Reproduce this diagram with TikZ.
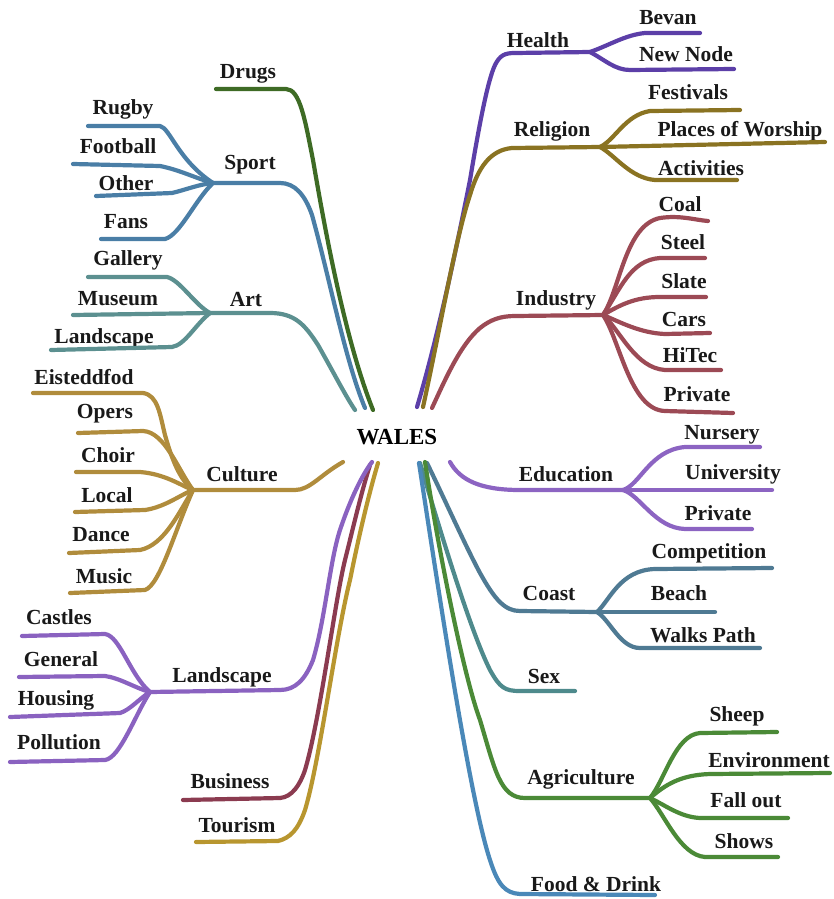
\documentclass[tikz,border=0pt]{standalone}
\usepackage{fontspec}
\setmainfont{Liberation Serif}
\begin{document}
\begin{tikzpicture}[x=1pt,y=-1pt,
  lbl/.style={font=\bfseries\fontsize{21.5}{24}\selectfont, inner sep=0pt, text=black!90},
  hub/.style={font=\bfseries\fontsize{23}{26}\selectfont, inner sep=0pt},
  br/.style={line width=4.2pt, line cap=round, line join=round}]
\useasboundingbox (0,0) rectangle (833,899);
\definecolor{cDrugs}{HTML}{3E6B25}
\definecolor{cSport}{HTML}{4A7EA6}
\definecolor{cArt}{HTML}{5C9090}
\definecolor{cCulture}{HTML}{B08C3C}
\definecolor{cLand}{HTML}{8A62C0}
\definecolor{cBusiness}{HTML}{8B3B50}
\definecolor{cTourism}{HTML}{B8962F}
\definecolor{cHealth}{HTML}{5C3FA8}
\definecolor{cReligion}{HTML}{8A7322}
\definecolor{cIndustry}{HTML}{9C4A55}
\definecolor{cEducation}{HTML}{8C64C2}
\definecolor{cCoast}{HTML}{4F7A93}
\definecolor{cSex}{HTML}{4E8A8C}
\definecolor{cAgri}{HTML}{4B8A37}
\definecolor{cFood}{HTML}{4A88B8}

% centre
\node[hub] (wales) at (397,437) {WALES};

% ---- junctions ----
\coordinate (sportJ) at (213,183);
\coordinate (artJ) at (210,313);
\coordinate (cultureJ) at (193,490);
\coordinate (landJ) at (150,692);
\coordinate (healthJ) at (590,52);
\coordinate (religionJ) at (600,147);
\coordinate (industryJ) at (603,315);
\coordinate (educationJ) at (623,490);
\coordinate (coastJ) at (597,612);
\coordinate (agriJ) at (650,798);

% ---- roots near the centre ----
\coordinate (drugsR) at (373,410);
\coordinate (sportR) at (365,408);
\coordinate (artR) at (355,410);
\coordinate (cultureR) at (343,462);
\coordinate (landR) at (372,462);
\coordinate (businessR) at (370,465);
\coordinate (tourismR) at (378,463);
\coordinate (healthR) at (417,407);
\coordinate (religionR) at (423,407);
\coordinate (industryR) at (432,408);
\coordinate (educationR) at (450,462);
\coordinate (coastR) at (427,463);
\coordinate (sexR) at (420,463);
\coordinate (agriR) at (425,462);
\coordinate (foodR) at (419,463);

% ---- labels ----
\node[lbl] (drugs) at (248,74) {Drugs};
\node[lbl] (sport) at (250,165) {Sport};
\node[lbl] (rugby) at (123,109) {Rugby};
\node[lbl] (football) at (118,146) {Football};
\node[lbl] (other) at (126,183) {Other};
\node[lbl] (fans) at (126,222) {Fans};
\node[lbl] (art) at (246,300) {Art};
\node[lbl] (gallery) at (128,260) {Gallery};
\node[lbl] (museum) at (118,299) {Museum};
\node[lbl] (landscapeA) at (104,338) {Landscape};
\node[lbl] (culture) at (242,474) {Culture};
\node[lbl] (eist) at (84,377) {Eisteddfod};
\node[lbl] (opers) at (105,414) {Opers};
\node[lbl] (choir) at (108,455) {Choir};
\node[lbl] (local) at (107,495) {Local};
\node[lbl] (dance) at (101,535) {Dance};
\node[lbl] (music) at (104,576) {Music};
\node[lbl] (landscape) at (222,677) {Landscape};
\node[lbl] (castles) at (59,617) {Castles};
\node[lbl] (general) at (61,659) {General};
\node[lbl] (housing) at (56,700) {Housing};
\node[lbl] (pollution) at (59,742) {Pollution};
\node[lbl] (business) at (230,781) {Business};
\node[lbl] (tourism) at (237,825) {Tourism};

\node[lbl] (health) at (538,40) {Health};
\node[lbl] (bevan) at (668,18) {Bevan};
\node[lbl] (newnode) at (686,54) {New Node};
\node[lbl] (religion) at (552,131) {Religion};
\node[lbl] (festivals) at (688,92) {Festivals};
\node[lbl] (worship) at (740,131) {Places of Worship};
\node[lbl] (activities) at (701,168) {Activities};
\node[lbl] (industry) at (556,300) {Industry};
\node[lbl] (coal) at (680,204) {Coal};
\node[lbl] (steel) at (683,242) {Steel};
\node[lbl] (slate) at (684,281) {Slate};
\node[lbl] (cars) at (684,319) {Cars};
\node[lbl] (hitec) at (690,355) {HiTec};
\node[lbl] (privateI) at (697,394) {Private};
\node[lbl] (education) at (566,474) {Education};
\node[lbl] (nursery) at (722,435) {Nursery};
\node[lbl] (university) at (733,474) {University};
\node[lbl] (privateE) at (718,513) {Private};
\node[lbl] (coast) at (549,593) {Coast};
\node[lbl] (competition) at (709,553) {Competition};
\node[lbl] (beach) at (679,593) {Beach};
\node[lbl] (walks) at (703,635) {Walks Path};
\node[lbl] (sex) at (544,676) {Sex};
\node[lbl] (agri) at (581,779) {Agriculture};
\node[lbl] (sheep) at (737,716) {Sheep};
\node[lbl] (environment) at (769,760) {Environment};
\node[lbl] (fallout) at (746,800) {Fall out};
\node[lbl] (shows) at (744,841) {Shows};
\node[lbl] (food) at (596,884) {Food \& Drink};

% ---- left main branches ----
\draw[br,cArt] (artJ) -- (270,313) .. controls (295,313) and (305,325) .. (318,345)
   .. controls (335,375) and (345,395) .. (artR);
\draw[br,cSport] (sportJ) -- (280,183) .. controls (295,183) and (305,195) .. (312,215)
   .. controls (330,280) and (345,360) .. (sportR);
\draw[br,cDrugs] (216,89) -- (286,89) .. controls (300,89) and (305,120) .. (313,160)
   .. controls (325,230) and (345,340) .. (drugsR);
\draw[br,cCulture] (cultureJ) -- (295,490) .. controls (310,490) and (320,475) .. (cultureR);
\draw[br,cTourism] (196,842) -- (278,841) .. controls (290,838) and (298,830) .. (305,810)
   .. controls (320,760) and (335,640) .. (350,580) .. controls (360,530) and (370,490) .. (tourismR);
\draw[br,cBusiness] (183,800) -- (280,798) .. controls (292,797) and (300,785) .. (305,770)
   .. controls (320,720) and (335,600) .. (345,560) .. controls (355,520) and (362,490) .. (businessR);
\draw[br,cLand] (landJ) -- (280,690) .. controls (295,690) and (305,680) .. (313,660)
   .. controls (325,620) and (330,560) .. (340,530) .. controls (350,500) and (362,475) .. (landR);

% sport leaves
\draw[br,cSport] (88,126) -- (160,126) .. controls (170,128) and (178,160) .. (sportJ);
\draw[br,cSport] (73,164) -- (160,166) .. controls (180,170) and (195,178) .. (sportJ);
\draw[br,cSport] (96,196) -- (172,193) .. controls (185,190) and (200,184) .. (sportJ);
\draw[br,cSport] (101,239) -- (165,239) .. controls (180,235) and (195,200) .. (sportJ);
% art leaves
\draw[br,cArt] (88,277) -- (167,277) .. controls (180,280) and (195,305) .. (artJ);
\draw[br,cArt] (73,315) -- (artJ);
\draw[br,cArt] (51,350) -- (172,347) .. controls (185,345) and (195,325) .. (artJ);
% culture leaves
\draw[br,cCulture] (33,393) -- (143,393) .. controls (158,395) and (160,415) .. (165,435)
   .. controls (172,460) and (180,480) .. (cultureJ);
\draw[br,cCulture] (78,433) -- (143,431) .. controls (165,432) and (178,470) .. (cultureJ);
\draw[br,cCulture] (76,472) -- (140,472) .. controls (165,474) and (180,485) .. (cultureJ);
\draw[br,cCulture] (75,512) -- (145,510) .. controls (165,507) and (180,495) .. (cultureJ);
\draw[br,cCulture] (69,553) -- (140,550) .. controls (165,545) and (180,510) .. (cultureJ);
\draw[br,cCulture] (70,593) -- (145,590) .. controls (160,585) and (175,530) .. (cultureJ);
% landscape leaves
\draw[br,cLand] (22,636) -- (105,634) .. controls (120,636) and (130,675) .. (landJ);
\draw[br,cLand] (19,677) -- (105,676) .. controls (120,678) and (135,688) .. (landJ);
\draw[br,cLand] (10,717) -- (120,713) .. controls (130,710) and (140,698) .. (landJ);
\draw[br,cLand] (10,762) -- (105,760) .. controls (120,758) and (135,715) .. (landJ);

% ---- right main branches ----
\draw[br,cHealth] (healthR) .. controls (440,330) and (460,230) .. (470,180)
   .. controls (480,120) and (488,80) .. (495,65) .. controls (500,55) and (505,53) .. (515,53) -- (healthJ);
\draw[br,cReligion] (religionR) .. controls (440,330) and (455,240) .. (470,195)
   .. controls (478,168) and (490,150) .. (512,148) -- (religionJ);
\draw[br,cIndustry] (industryR) .. controls (445,380) and (460,345) .. (480,328)
   .. controls (490,320) and (500,316) .. (515,316) -- (industryJ);
\draw[br,cEducation] (educationR) .. controls (460,480) and (480,490) .. (520,490) -- (educationJ);
\draw[br,cCoast] (coastR) .. controls (445,500) and (465,545) .. (480,573)
   .. controls (495,600) and (505,611) .. (520,611) -- (coastJ);
\draw[br,cSex] (sexR) .. controls (440,530) and (470,630) .. (490,670)
   .. controls (500,688) and (505,691) .. (520,691) -- (575,691);
\draw[br,cAgri] (agriR) .. controls (440,560) and (465,680) .. (480,720)
   .. controls (495,770) and (500,798) .. (525,798) -- (agriJ);
\draw[br,cFood] (foodR) .. controls (440,600) and (470,800) .. (490,860)
   .. controls (498,885) and (505,893) .. (520,894) -- (655,895);

% health leaves
\draw[br,cHealth] (healthJ) .. controls (610,45) and (625,35) .. (645,33) -- (700,33);
\draw[br,cHealth] (healthJ) .. controls (605,60) and (615,70) .. (630,70) -- (734,69);
% religion leaves
\draw[br,cReligion] (religionJ) .. controls (615,140) and (625,115) .. (650,111) -- (740,110);
\draw[br,cReligion] (religionJ) -- (825,142);
\draw[br,cReligion] (religionJ) .. controls (615,155) and (630,178) .. (655,180) -- (737,180);
% industry leaves
\draw[br,cIndustry] (industryJ) .. controls (620,290) and (625,225) .. (660,218)
   .. controls (680,215) and (695,220) .. (708,221);
\draw[br,cIndustry] (industryJ) .. controls (620,290) and (630,260) .. (660,258) -- (705,258);
\draw[br,cIndustry] (industryJ) .. controls (620,305) and (635,297) .. (660,297) -- (706,297);
\draw[br,cIndustry] (industryJ) .. controls (620,322) and (640,333) .. (665,334) -- (710,333);
\draw[br,cIndustry] (industryJ) .. controls (620,330) and (635,368) .. (665,370) -- (721,370);
\draw[br,cIndustry] (industryJ) .. controls (620,340) and (630,410) .. (665,411) -- (733,413);
% education leaves
\draw[br,cEducation] (educationJ) .. controls (640,485) and (650,450) .. (685,447) -- (760,447);
\draw[br,cEducation] (educationJ) -- (772,490);
\draw[br,cEducation] (educationJ) .. controls (640,495) and (655,528) .. (685,529) -- (752,529);
% coast leaves
\draw[br,cCoast] (coastJ) .. controls (610,600) and (620,570) .. (655,569) -- (772,568);
\draw[br,cCoast] (coastJ) -- (715,612);
\draw[br,cCoast] (coastJ) .. controls (610,620) and (620,648) .. (640,648) -- (760,648);
% agriculture leaves
\draw[br,cAgri] (agriJ) .. controls (665,780) and (675,735) .. (700,733) -- (777,732);
\draw[br,cAgri] (agriJ) .. controls (665,785) and (680,775) .. (710,774) -- (830,773);
\draw[br,cAgri] (agriJ) .. controls (665,805) and (680,817) .. (700,818) -- (788,818);
\draw[br,cAgri] (agriJ) .. controls (665,815) and (680,855) .. (705,857) -- (778,857);
\end{tikzpicture}
\end{document}
